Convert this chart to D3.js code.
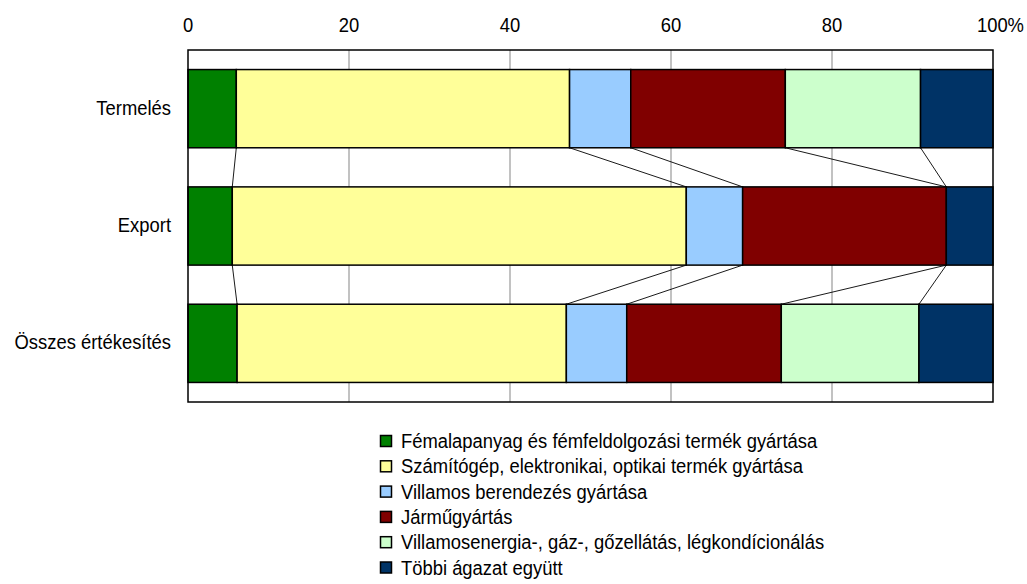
<!DOCTYPE html>
<html>
<head>
<meta charset="utf-8">
<script src="https://cdn.jsdelivr.net/npm/d3@7"></script>
<style>
  body { margin: 0; background: #fff; }
  text { font-family: "Liberation Sans", Arial, sans-serif; fill: #000; }
</style>
</head>
<body>
<script>
// Categories (top to bottom)
var categories = ["Termelés", "Export", "Összes értékesítés"];

// Series names (legend order = stack order)
var seriesNames = [
    "Fémalapanyag és fémfeldolgozási termék gyártása",
    "Számítógép, elektronikai, optikai termék gyártása",
    "Villamos berendezés gyártása",
    "Járműgyártás",
    "Villamosenergia-, gáz-, gőzellátás, légkondícionálás",
    "Többi ágazat együtt"
];

// Share values (%) per category, in series order
var termeles = [6.0, 41.4, 7.6, 19.2, 16.8, 9.0];
var exportData = [5.5, 56.4, 7.0, 25.3, 0, 5.8];
var osszes = [6.1, 40.9, 7.5, 19.2, 17.1, 9.2];

var seriesColors = ["#008000", "#FFFF99", "#99CCFF", "#800000", "#CCFFCC", "#003366"];

var tickValues = [0, 20, 40, 60, 80, 100];

var width = 1027,
    height = 584;
var margin = {left: 188, right: 34, top: 50, bottom: 182};

// narrow-ish look of the original font
var squeeze = 0.92;
function condense(sel) {
    sel.each(function() {
        var w = this.getComputedTextLength();
        d3.select(this)
            .attr("textLength", w * squeeze)
            .attr("lengthAdjust", "spacingAndGlyphs");
    });
}

// Build rows for the stack
var rows = [termeles, exportData, osszes].map(function(vals, i) {
    var r = {category: categories[i]};
    seriesNames.forEach(function(s, j) { r[s] = vals[j]; });
    return r;
});

var stacked = d3.stack().keys(seriesNames)(rows);

var svg = d3.select("body").append("svg")
    .attr("width", width)
    .attr("height", height);

var x = d3.scaleLinear()
    .domain([0, 100])
    .range([margin.left, width - margin.right]);

var y = d3.scaleBand()
    .domain(categories)
    .range([margin.top, height - margin.bottom])
    .paddingInner(1/3)
    .paddingOuter(1/6);

// Gridlines
svg.append("g")
    .selectAll("line")
    .data(tickValues.slice(1, -1))
    .enter()
    .append("line")
    .attr("x1", d => x(d))
    .attr("x2", d => x(d))
    .attr("y1", margin.top)
    .attr("y2", height - margin.bottom)
    .attr("stroke", "#999")
    .attr("stroke-width", 1.2);

// Connector lines between bars
var connectors = [];
stacked.slice(0, -1).forEach(function(layer) {
    for (var i = 0; i < categories.length - 1; i++) {
        connectors.push({x1: layer[i][1], x2: layer[i + 1][1], c1: categories[i], c2: categories[i + 1]});
    }
});
svg.append("g")
    .selectAll("line")
    .data(connectors)
    .enter()
    .append("line")
    .attr("x1", d => x(d.x1))
    .attr("x2", d => x(d.x2))
    .attr("y1", d => y(d.c1) + y.bandwidth())
    .attr("y2", d => y(d.c2))
    .attr("stroke", "#000")
    .attr("stroke-width", 0.9);

// Bars
svg.append("g")
    .selectAll("g")
    .data(stacked)
    .enter()
    .append("g")
    .attr("fill", (d, i) => seriesColors[i])
    .selectAll("rect")
    .data(d => d.filter(p => p[1] - p[0] > 0))
    .enter()
    .append("rect")
    .attr("x", d => x(d[0]))
    .attr("y", d => y(d.data.category))
    .attr("width", d => x(d[1]) - x(d[0]))
    .attr("height", y.bandwidth())
    .attr("stroke", "#000")
    .attr("stroke-width", 1.5);

// Plot border
svg.append("rect")
    .attr("x", x(0))
    .attr("y", margin.top)
    .attr("width", x(100) - x(0))
    .attr("height", height - margin.bottom - margin.top)
    .attr("fill", "none")
    .attr("stroke", "#000")
    .attr("stroke-width", 1.5);

// Top axis labels ("100%" ends near the right edge like the original)
svg.append("g")
    .selectAll("text")
    .data(tickValues)
    .enter()
    .append("text")
    .attr("x", d => d == 100 ? width - 3 : x(d))
    .attr("y", 32)
    .attr("font-size", "20px")
    .attr("text-anchor", d => d == 100 ? "end" : "middle")
    .text(d => d == 100 ? d + "%" : d)
    .call(condense);

// Category labels
svg.append("g")
    .selectAll("text")
    .data(categories)
    .enter()
    .append("text")
    .attr("x", x(0) - 17)
    .attr("y", d => y(d) + y.bandwidth() / 2 - 1)
    .attr("dy", "0.35em")
    .attr("text-anchor", "end")
    .attr("font-size", "20px")
    .text(d => d)
    .call(condense);

// Legend
var legend = svg.append("g")
    .attr("transform", "translate(380,441)");

var items = legend.selectAll("g")
    .data(seriesNames)
    .enter()
    .append("g")
    .attr("transform", (d, i) => "translate(0," + (i * 25.3) + ")");

items.append("rect")
    .attr("x", 0.5)
    .attr("y", -5.5)
    .attr("width", 11)
    .attr("height", 11)
    .attr("fill", (d, i) => seriesColors[i])
    .attr("stroke", "#000")
    .attr("stroke-width", 1.5);

items.append("text")
    .attr("x", 21)
    .attr("y", 0)
    .attr("dy", "0.35em")
    .attr("font-size", "20px")
    .text(d => d)
    .call(condense);
</script>
</body>
</html>
